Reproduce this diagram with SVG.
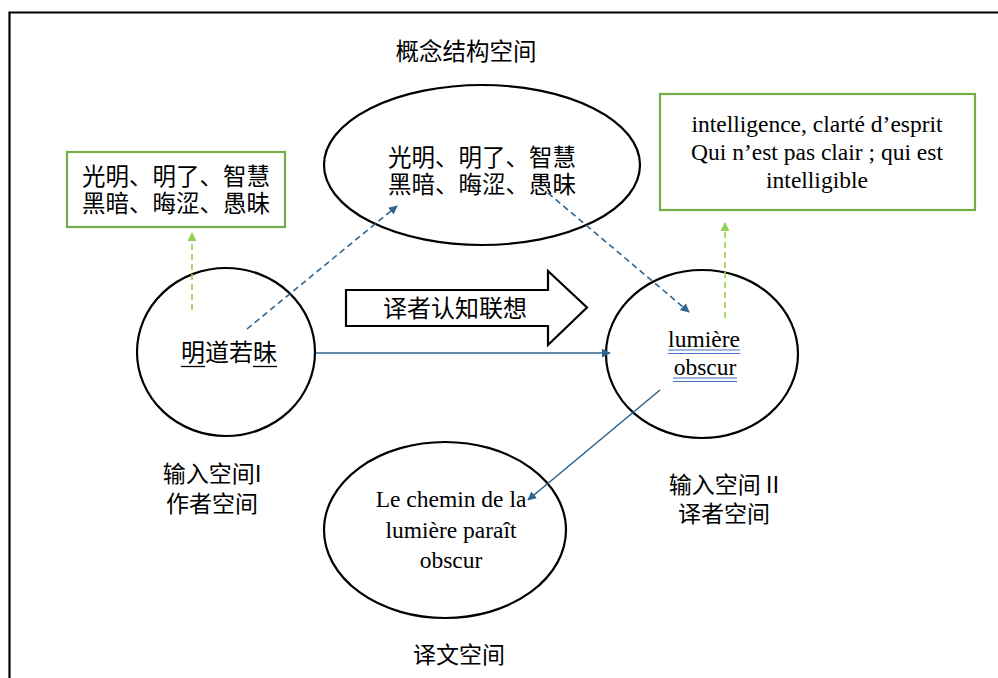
<svg xmlns="http://www.w3.org/2000/svg" width="998" height="678" viewBox="0 0 998 678">
<defs>
<style>
.node{fill:#fff;stroke:#000;stroke-width:2.2}
.gbox{fill:#fff;stroke:#70AD47;stroke-width:2.2}
.zh{font-family:"Noto Sans CJK SC","Noto Sans",sans-serif;font-size:23px;fill:#000}
.fr{font-family:"Liberation Serif","Times New Roman",serif;font-size:23.5px;fill:#000}
.blue{stroke:#2F6690;stroke-width:1.6;fill:none}
.dash{stroke-dasharray:6 4}
.green{stroke:#92D050;stroke-width:1.6;fill:none;stroke-dasharray:6 4}
.ul{stroke:#000;stroke-width:1.3}
.dul{stroke:#4472C4;stroke-width:1.1}
</style>
<marker id="ab" viewBox="0 0 10 10" refX="9" refY="5" markerWidth="9" markerHeight="9" markerUnits="userSpaceOnUse" orient="auto"><path d="M0,0 L10,5 L0,10 z" fill="#2F6690"/></marker>
<marker id="ag" viewBox="0 0 10 10" refX="9" refY="5" markerWidth="9" markerHeight="9" markerUnits="userSpaceOnUse" orient="auto"><path d="M0,0 L10,5 L0,10 z" fill="#92D050"/></marker>
</defs>
<rect width="998" height="678" fill="#fff"/>
<path d="M9.5,678 V12.5 H998" fill="none" stroke="#000" stroke-width="2.2"/>

<text class="zh" x="466" y="60" text-anchor="middle" style="font-size:23.5px">概念结构空间</text>

<g id="concept">
<ellipse class="node" cx="482" cy="165" rx="158" ry="80"/>
<text class="zh" x="482" y="166" text-anchor="middle" style="font-size:23.5px">光明、明了、智慧</text>
<text class="zh" x="482" y="193" text-anchor="middle" style="font-size:23.5px">黑暗、晦涩、愚昧</text>
</g>

<g id="leftbox">
<rect class="gbox" x="67" y="152" width="218" height="75"/>
<text class="zh" x="176" y="185" text-anchor="middle" style="font-size:23.5px">光明、明了、智慧</text>
<text class="zh" x="176" y="212" text-anchor="middle" style="font-size:23.5px">黑暗、晦涩、愚昧</text>
</g>

<g id="rightbox">
<rect class="gbox" x="660" y="94" width="315" height="116"/>
<text class="fr" x="817" y="132" text-anchor="middle">intelligence, clarté d’esprit</text>
<text class="fr" x="817" y="160" text-anchor="middle">Qui n’est pas clair ; qui est</text>
<text class="fr" x="817" y="188" text-anchor="middle">intelligible</text>
</g>

<g id="author">
<ellipse class="node" cx="226" cy="352" rx="89" ry="84"/>
<text class="zh" x="229" y="361" text-anchor="middle" style="font-size:24px">明道若昧</text>
<line class="ul" x1="181" y1="366.5" x2="205" y2="366.5"/>
<line class="ul" x1="253" y1="366.5" x2="277" y2="366.5"/>
</g>

<g id="translator">
<ellipse class="node" cx="702" cy="354" rx="96" ry="84"/>
<text class="fr" x="704" y="347" text-anchor="middle">lumière</text>
<text class="fr" x="705" y="375" text-anchor="middle">obscur</text>
<line class="dul" x1="668" y1="350" x2="740" y2="350"/>
<line class="dul" x1="668" y1="353.5" x2="740" y2="353.5"/>
<line class="dul" x1="673" y1="378" x2="737" y2="378"/>
<line class="dul" x1="673" y1="381.5" x2="737" y2="381.5"/>
</g>

<g id="target">
<ellipse class="node" cx="445" cy="530" rx="121" ry="88"/>
<text class="fr" x="451" y="507" text-anchor="middle">Le chemin de la</text>
<text class="fr" x="451" y="538" text-anchor="middle">lumière paraît</text>
<text class="fr" x="451" y="568" text-anchor="middle">obscur</text>
</g>

<g id="cognition">
<path d="M346,290 H548 V271 L587,307.5 L548,345 V326 H346 Z" fill="#fff" stroke="#000" stroke-width="2.2" stroke-linejoin="miter"/>
<text class="zh" x="455" y="317" text-anchor="middle" style="font-size:24px">译者认知联想</text>
</g>

<g id="labels">
<text class="zh" x="212" y="482" text-anchor="middle">输入空间I</text>
<text class="zh" x="212" y="512" text-anchor="middle">作者空间</text>
<text class="zh" x="724" y="493" text-anchor="middle">输入空间 II</text>
<text class="zh" x="724" y="522" text-anchor="middle">译者空间</text>
<text class="zh" x="459" y="663" text-anchor="middle">译文空间</text>
</g>

<g id="connectors">
<line class="green" x1="192" y1="310" x2="192" y2="233" marker-end="url(#ag)"/>
<line class="green" x1="725" y1="318" x2="725" y2="223" marker-end="url(#ag)"/>
<line class="blue dash" x1="247" y1="329" x2="397" y2="206" marker-end="url(#ab)"/>
<line class="blue dash" x1="548" y1="193" x2="689" y2="312" marker-end="url(#ab)"/>
<line class="blue" x1="316" y1="353" x2="610" y2="353" marker-end="url(#ab)"/>
<line class="blue" x1="660" y1="390" x2="528" y2="500" marker-end="url(#ab)"/>
</g>
</svg>
